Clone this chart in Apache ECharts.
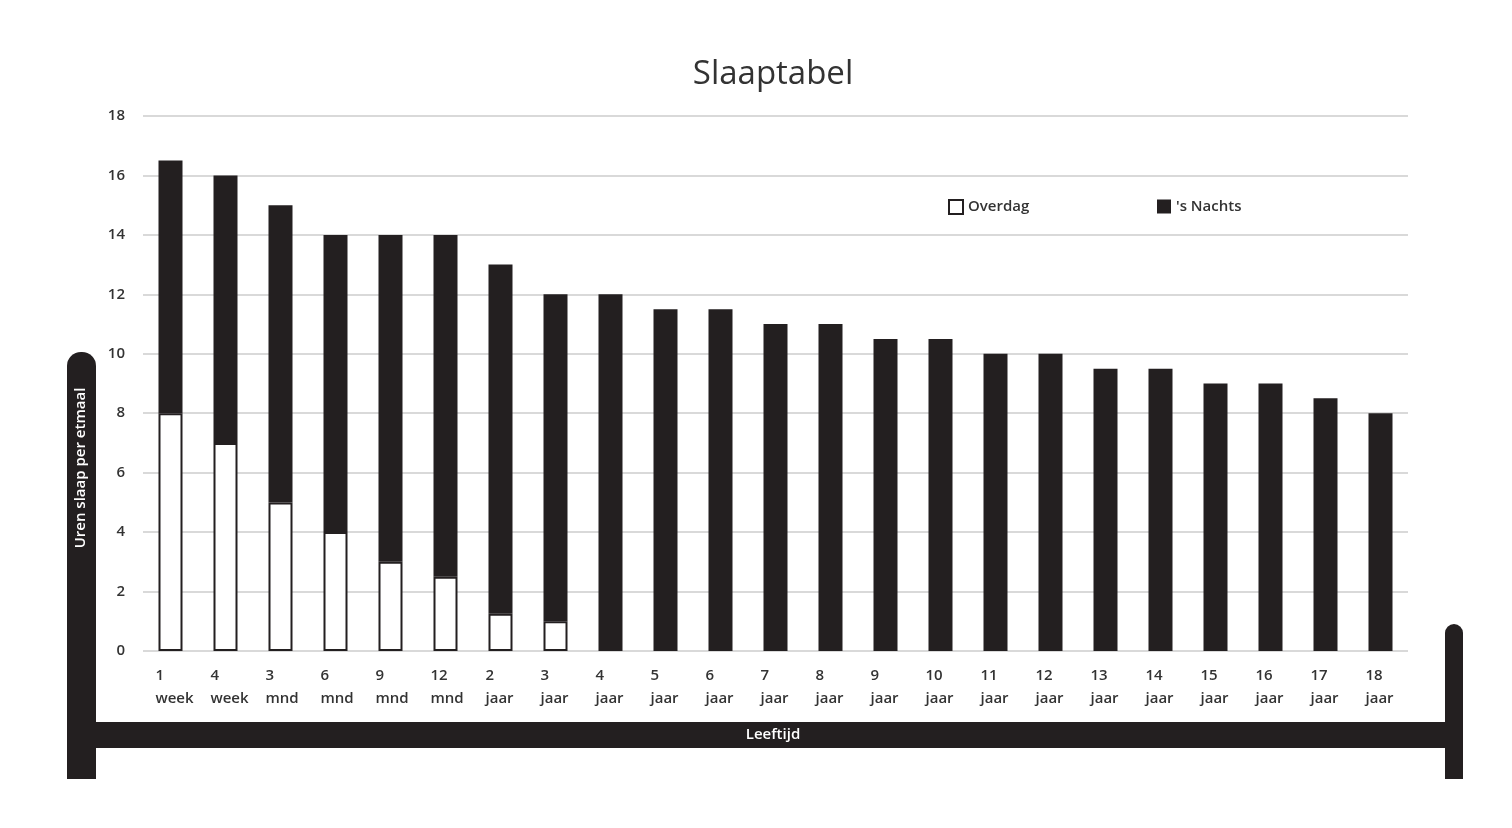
<!DOCTYPE html>
<html>
<head>
<meta charset="utf-8">
<title>Slaaptabel</title>
<script src="https://cdn.jsdelivr.net/npm/echarts@6/dist/echarts.min.js"></script>
<style>
  html, body { margin: 0; padding: 0; background: #fff; }
  #chart { width: 1512px; height: 828px; }
</style>
</head>
<body>
<div id="chart"></div>
<script>
// leeftijd: getal + eenheid (twee regels onder elke staaf)
const ageNumbers = ['1', '4', '3', '6', '9', '12', '2', '3', '4', '5', '6', '7', '8', '9', '10', '11', '12', '13', '14', '15', '16', '17', '18'];
const ageUnits = ['week', 'week', 'mnd', 'mnd', 'mnd', 'mnd', 'jaar', 'jaar', 'jaar', 'jaar', 'jaar', 'jaar', 'jaar', 'jaar', 'jaar', 'jaar', 'jaar', 'jaar', 'jaar', 'jaar', 'jaar', 'jaar', 'jaar'];
// uren slaap overdag ('-' = geen dutje)
const dayHours = [8, 7, 5, 4, 3, 2.5, 1.25, 1, '-', '-', '-', '-', '-', '-', '-', '-', '-', '-', '-', '-', '-', '-', '-'];
// uren slaap 's nachts
const nightHours = [8.5, 9, 10, 10, 11, 11.5, 11.75, 11, 12, 11.5, 11.5, 11, 11, 10.5, 10.5, 10, 10, 9.5, 9.5, 9, 9, 8.5, 8];
const yTicks = [0, 2, 4, 6, 8, 10, 12, 14, 16, 18];

(function () {
  const INK = '#231f20';
  const FONT = '"Open Sans", "DejaVu Sans", sans-serif';
  const categories = ageNumbers.map((n, i) => n + '|' + ageUnits[i]);

  const chart = echarts.init(document.getElementById('chart'));
  const opt = {
    animation: false,
    backgroundColor: '#fff',
    title: {
      text: 'Slaaptabel',
      left: 773, top: 58, textAlign: 'center', padding: 0,
      textStyle: { fontFamily: FONT, fontSize: 33, fontWeight: 'normal', color: '#333' }
    },
    legend: [
      {
        data: ['Overdag'], left: 948, top: 199, padding: 0, icon: 'rect',
        itemWidth: 14, itemHeight: 14, itemGap: 8,
        textStyle: { fontFamily: FONT, fontSize: 15, fontWeight: 600, color: '#333' }
      },
      {
        data: ["'s Nachts"], left: 1157, top: 199, padding: 0, icon: 'rect',
        itemWidth: 14, itemHeight: 14, itemGap: 8,
        textStyle: { fontFamily: FONT, fontSize: 15, fontWeight: 600, color: '#333' }
      }
    ],
    grid: { left: 143, right: 104, top: 116, bottom: 177, containLabel: false },
    xAxis: {
      type: 'category',
      data: categories,
      axisLine: { show: false },
      axisTick: { show: false },
      axisLabel: {
        interval: 0,
        margin: 13,
        align: 'center',
        formatter: (v) => { const p = v.split('|'); return '{n|' + p[0] + '}\n{u|' + p[1] + '}'; },
        rich: {
          n: { width: 30, align: 'left', lineHeight: 23, fontFamily: FONT, fontSize: 15, fontWeight: 600, color: '#333' },
          u: { width: 30, align: 'left', lineHeight: 23, fontFamily: FONT, fontSize: 15, fontWeight: 600, color: '#333' }
        }
      }
    },
    yAxis: {
      type: 'value',
      min: yTicks[0], max: yTicks[yTicks.length - 1], interval: 2,
      axisLine: { show: false },
      axisTick: { show: false },
      axisLabel: { margin: 18, fontFamily: FONT, fontSize: 15, fontWeight: 600, color: '#333' },
      splitLine: { lineStyle: { color: '#d9d9d9', width: 2 } }
    },
    series: [
      {
        name: 'Overdag', type: 'bar', stack: 'slaap', data: dayHours,
        barWidth: 24,
        itemStyle: { color: '#fff', borderColor: INK, borderWidth: 2 }
      },
      {
        name: "'s Nachts", type: 'bar', stack: 'slaap', data: nightHours,
        barWidth: 24,
        itemStyle: { color: INK }
      }
    ],
    // het bed rond de grafiek
    graphic: [
      { type: 'rect', shape: { x: 67, y: 352, width: 29, height: 427, r: [14, 14, 0, 0] }, style: { fill: INK } },
      { type: 'rect', shape: { x: 90, y: 722, width: 1365, height: 26 }, style: { fill: INK } },
      { type: 'rect', shape: { x: 1445, y: 624, width: 18, height: 155, r: [9, 9, 0, 0] }, style: { fill: INK } },
      {
        type: 'text', x: 773, y: 735,
        style: { text: 'Leeftijd', fill: '#fff', font: '600 15px ' + FONT, textAlign: 'center', textVerticalAlign: 'middle' }
      },
      {
        type: 'text', x: 81, y: 468, rotation: Math.PI / 2,
        style: { text: 'Uren slaap per etmaal', fill: '#fff', font: '600 15px ' + FONT, textAlign: 'center', textVerticalAlign: 'middle' }
      }
    ]
  };
  chart.setOption(opt);
  window.addEventListener('resize', () => chart.resize());
})();
</script>
</body>
</html>
